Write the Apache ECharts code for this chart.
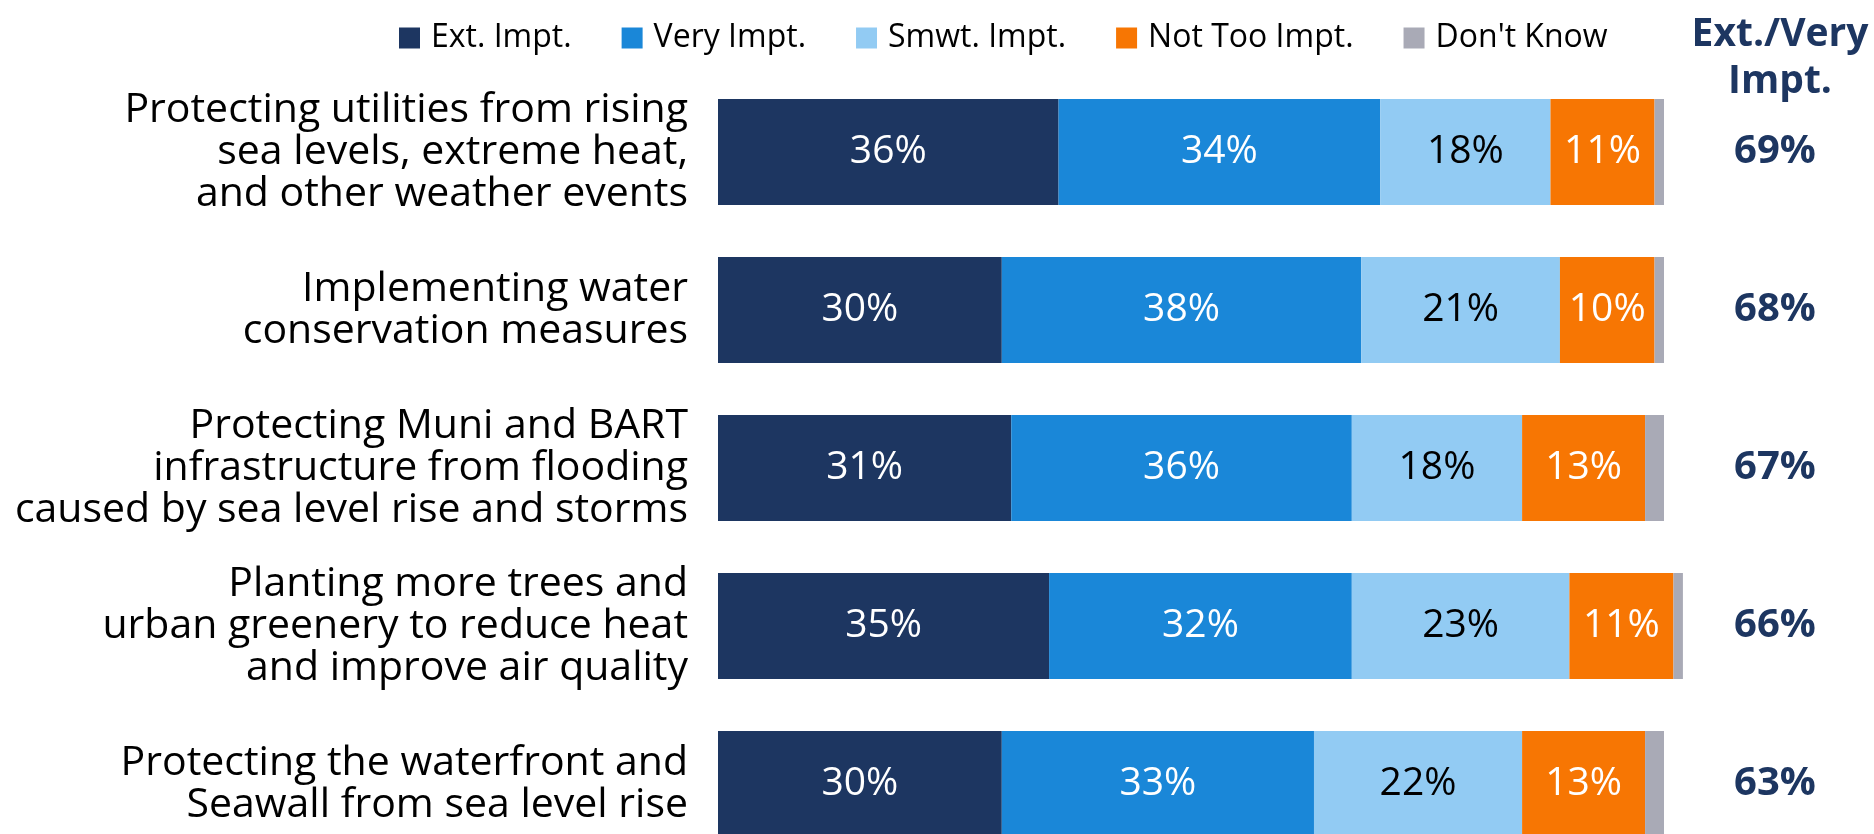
<!DOCTYPE html>
<html>
<head>
<meta charset="utf-8">
<script src="https://cdn.jsdelivr.net/npm/echarts@6/dist/echarts.min.js"></script>
<style>
  html, body { margin: 0; padding: 0; background: #ffffff; }
  #chart { width: 1874px; height: 834px; }
</style>
</head>
<body>
<div id="chart"></div>
<script>
// Survey items (top to bottom)
const categories = [
  'Protecting utilities from rising\nsea levels, extreme heat,\nand other weather events',
  'Implementing water\nconservation measures',
  'Protecting Muni and BART\ninfrastructure from flooding\ncaused by sea level rise and storms',
  'Planting more trees and\nurban greenery to reduce heat\nand improve air quality',
  'Protecting the waterfront and\nSeawall from sea level rise'
];

// Response shares (%)
const extImpt     = [36, 30, 31, 35, 30];
const veryImpt    = [34, 38, 36, 32, 33];
const smwtImpt    = [18, 21, 18, 23, 22];
const notTooImpt  = [11, 10, 13, 11, 13];
const dontKnow    = [1, 1, 2, 1, 2];

// Combined Ext./Very Impt. totals
const extVeryTotal = [69, 68, 67, 66, 63];

const seriesNames = ['Ext. Impt.', 'Very Impt.', 'Smwt. Impt.', 'Not Too Impt.', "Don't Know"];
const seriesData  = [extImpt, veryImpt, smwtImpt, notTooImpt, dontKnow];
const colors      = ['#1d3661', '#1a87d8', '#92cbf3', '#f77603', '#a9aab6'];
const labelColors = ['#ffffff', '#ffffff', '#000000', '#ffffff', null];

const FONT = 'Open Sans';

const chart = echarts.init(document.getElementById('chart'), null, { renderer: 'canvas' });

const series = seriesNames.map((name, i) => ({
  name,
  type: 'bar',
  stack: 'total',
  barWidth: 106,
  clip: false,
  data: seriesData[i],
  itemStyle: { color: colors[i] },
  label: labelColors[i] ? {
    show: true,
    position: 'inside',
    formatter: p => p.value + '%',
    color: labelColors[i],
    fontFamily: FONT,
    fontSize: 39
  } : { show: false },
  emphasis: { disabled: true }
}));

chart.setOption({
  animation: false,
  color: colors,
  title: {
    text: 'Ext./Very\nImpt.',
    left: 1775,
    top: 6,
    textAlign: 'center',
    textStyle: {
      fontFamily: FONT,
      fontWeight: 'bold',
      fontSize: 39,
      lineHeight: 47,
      color: '#1d3661'
    }
  },
  legend: {
    data: seriesNames,
    left: 399,
    top: 22,
    padding: 0,
    icon: 'rect',
    itemWidth: 21,
    itemHeight: 21,
    itemGap: 50,
    textStyle: { fontFamily: FONT, fontSize: 32, color: '#000000', padding: [0, 0, 0, 6] }
  },
  // the last row runs past the bottom edge of the canvas
  grid: { left: 718, right: 210, top: 73, height: 790, outerBoundsMode: 'none', containLabel: false },
  xAxis: {
    type: 'value',
    min: 0,
    max: 100,
    show: false
  },
  yAxis: [
    {
      type: 'category',
      data: categories,
      inverse: true,
      axisLine: { show: false },
      axisTick: { show: false },
      splitLine: { show: false },
      axisLabel: {
        margin: 30,
        align: 'right',
        fontFamily: FONT,
        fontSize: 41,
        lineHeight: 42,
        color: '#000000'
      }
    },
    {
      type: 'category',
      data: extVeryTotal.map(v => v + '%'),
      inverse: true,
      position: 'right',
      axisLine: { show: false },
      axisTick: { show: false },
      splitLine: { show: false },
      axisLabel: {
        margin: 111,
        align: 'center',
        fontFamily: FONT,
        fontWeight: 'bold',
        fontSize: 40,
        color: '#1d3661'
      }
    }
  ],
  series
});
</script>
</body>
</html>
